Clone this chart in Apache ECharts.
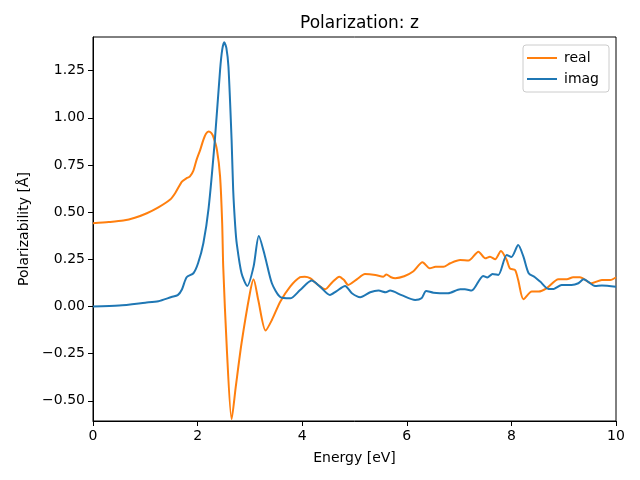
<!DOCTYPE html>
<html>
<head>
<meta charset="utf-8">
<script src="https://cdn.jsdelivr.net/npm/echarts@6/dist/echarts.min.js"></script>
<style>html,body{margin:0;padding:0;background:#fff}#c{width:640px;height:480px}</style>
</head>
<body>
<div id="c"></div>
<script>
var realE = [0,0.3,0.58,0.8,1.03,1.25,1.47,1.57,1.70,1.79,1.85,1.92,1.98,2.05,2.11,2.16,2.21,2.26,2.30,2.37,2.43,2.47,2.49,2.56,2.65,2.73,2.84,3.00,3.07,3.16,3.30,3.42,3.58,3.77,3.96,4.05,4.15,4.30,4.44,4.58,4.71,4.80,4.88,5.05,5.2,5.4,5.55,5.61,5.7,5.78,5.95,6.12,6.30,6.44,6.55,6.70,6.83,7.02,7.18,7.37,7.50,7.59,7.69,7.80,7.91,7.97,8.07,8.13,8.23,8.39,8.52,8.67,8.90,9.06,9.18,9.31,9.53,9.73,9.89,10];
var realV = [0.441,0.447,0.455,0.47,0.494,0.525,0.565,0.60,0.662,0.68,0.688,0.72,0.777,0.83,0.883,0.915,0.927,0.92,0.90,0.83,0.688,0.441,0.211,-0.231,-0.598,-0.425,-0.195,0.07,0.144,0.034,-0.128,-0.072,0.025,0.105,0.155,0.158,0.15,0.115,0.091,0.13,0.158,0.14,0.114,0.145,0.172,0.167,0.158,0.17,0.155,0.15,0.16,0.185,0.234,0.202,0.21,0.21,0.229,0.246,0.243,0.29,0.255,0.264,0.25,0.294,0.246,0.202,0.193,0.14,0.038,0.079,0.079,0.096,0.144,0.144,0.155,0.155,0.123,0.14,0.14,0.155];
var imagE = [0,0.5,1.0,1.25,1.5,1.62,1.70,1.79,1.92,2.01,2.11,2.21,2.33,2.43,2.47,2.51,2.55,2.59,2.65,2.68,2.72,2.75,2.84,2.95,3.07,3.17,3.29,3.42,3.58,3.77,3.96,4.18,4.34,4.53,4.65,4.82,4.95,5.11,5.3,5.46,5.6,5.68,5.9,6.16,6.28,6.37,6.51,6.79,7.02,7.11,7.24,7.46,7.54,7.64,7.75,7.91,8.00,8.13,8.23,8.33,8.45,8.55,8.71,8.81,8.96,9.15,9.28,9.38,9.60,9.73,10];
var imagV = [0,0.005,0.02,0.028,0.05,0.06,0.09,0.155,0.176,0.23,0.335,0.52,0.883,1.254,1.36,1.40,1.37,1.27,0.883,0.62,0.423,0.33,0.176,0.109,0.211,0.374,0.264,0.123,0.05,0.043,0.087,0.137,0.105,0.061,0.08,0.109,0.07,0.049,0.075,0.084,0.075,0.084,0.06,0.034,0.043,0.082,0.073,0.07,0.091,0.091,0.084,0.162,0.153,0.172,0.167,0.273,0.262,0.326,0.264,0.176,0.155,0.132,0.093,0.093,0.114,0.114,0.123,0.144,0.109,0.111,0.105];
var yTicks = [-0.5,-0.25,0,0.25,0.5,0.75,1.0,1.25];
var xTicks = [0,2,4,6,8,10];

function pairs(xs, ys){ return xs.map(function(x,i){ return [x, ys[i]]; }); }
function fmt(v){ var s = Math.abs(v).toFixed(2); return (v < 0 ? '\u2212' : '') + s; }

var font = 'DejaVu Sans';
var chart = echarts.init(document.getElementById('c'), null, {renderer:'canvas'});
chart.setOption({
  animation: false,
  backgroundColor: '#fff',
  textStyle: {fontFamily: font},
  title: {
    text: 'Polarization: z', left: 354.5, top: 10, textAlign: 'center',
    textStyle: {fontFamily: font, fontSize: 17, fontWeight: 'normal', color: '#000'}
  },
  legend: {
    data: ['real','imag'], orient: 'vertical', right: 31, top: 45,
    icon: 'rect', itemWidth: 30, itemHeight: 2, itemGap: 7,
    padding: [6, 10, 6, 4], borderColor: '#ccc', borderWidth: 1, borderRadius: 3,
    backgroundColor: 'rgba(255,255,255,0.8)',
    textStyle: {fontFamily: font, fontSize: 14, color: '#000', padding: [0,0,0,2]}
  },
  grid: {left: 93, right: 24, top: 37, bottom: 59, show: true, borderColor: '#000', borderWidth: 1, containLabel: false},
  xAxis: {
    type: 'value', min: 0, max: 10, interval: 2,
    name: 'Energy [eV]', nameLocation: 'middle', nameGap: 30,
    nameTextStyle: {fontFamily: font, fontSize: 14, color: '#000'},
    axisLine: {show: true, onZero: false, lineStyle: {color: '#000', width: 1}},
    axisTick: {show: true, inside: false, length: 5, lineStyle: {color: '#000'}},
    axisLabel: {fontFamily: font, fontSize: 14, color: '#000', margin: 8},
    splitLine: {show: false}
  },
  yAxis: {
    type: 'value', min: -0.607, max: 1.428,
    name: 'Polarizability [\u00c5]', nameLocation: 'middle', nameGap: 61, nameRotate: 90,
    nameTextStyle: {fontFamily: font, fontSize: 14, color: '#000'},
    axisLine: {show: true, onZero: false, lineStyle: {color: '#000', width: 1}},
    axisTick: {show: true, inside: false, length: 5, lineStyle: {color: '#000'}, customValues: yTicks},
    axisLabel: {fontFamily: font, fontSize: 14, color: '#000', margin: 8, customValues: yTicks, formatter: fmt},
    splitLine: {show: false}
  },
  series: [
    {name: 'real', type: 'line', data: pairs(realE, realV), showSymbol: false, smooth: 0.25,
     color: '#ff7f0e', lineStyle: {width: 2, color: '#ff7f0e'}},
    {name: 'imag', type: 'line', data: pairs(imagE, imagV), showSymbol: false, smooth: 0.25,
     color: '#1f77b4', lineStyle: {width: 2, color: '#1f77b4'}}
  ]
});
</script>
</body>
</html>
